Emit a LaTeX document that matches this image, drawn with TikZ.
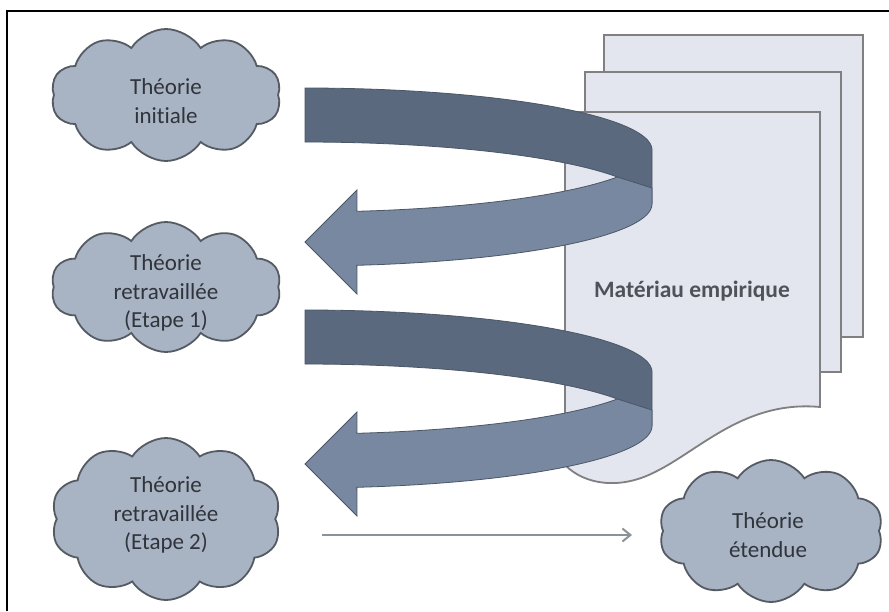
\documentclass[tikz,border=0pt]{standalone}
\usepackage{fontspec}
\setmainfont{Carlito}[Ligatures=NoCommon]
\usetikzlibrary{shapes.symbols,arrows.meta}
\definecolor{pagefill}{HTML}{E3E6EE}
\definecolor{pageedge}{HTML}{808080}
\definecolor{cloudfill}{HTML}{A8B3C4}
\definecolor{cloudedge}{HTML}{555B63}
\definecolor{ribdark}{HTML}{5A697E}
\definecolor{riblight}{HTML}{7788A0}
\definecolor{ribedge}{HTML}{4B5666}
\definecolor{txt}{HTML}{30343B}
\definecolor{thinarrow}{HTML}{8A9297}
\tikzset{
  cloudshape/.style={cloud, cloud puffs=10, cloud puff arc=115, cloud ignores aspect,
    fill=cloudfill, draw=cloudedge, line width=1.8pt, inner sep=0pt},
  cloudtext/.style={align=center, text=txt, font=\fontsize{23}{28.5}\selectfont, inner sep=0pt},
  pagebox/.style={fill=pagefill, draw=pageedge, line width=1.8pt},
}
\begin{document}
\begin{tikzpicture}[x=1pt,y=-1pt]
\useasboundingbox (0,0) rectangle (889,611);
\fill[white] (0,0) rectangle (889,611);
% frame
\draw[line width=2pt,black] (7,611) -- (7,11) -- (889,11);
% pages
\draw[pagebox] (604,35) rectangle (863,337);
\draw[pagebox] (585,72) rectangle (841,372);
\draw[pagebox] (565,112) -- (820,112) -- (820,407)
  .. controls (745,400) and (700,450) .. (655,472)
  .. controls (620,490) and (585,485) .. (565,465) -- cycle;
\node[text=txt!85!white, font=\fontsize{23.5}{28}\selectfont\bfseries, inner sep=0pt] (mat) at (692,291) {Matériau empirique};
% ribbons
\foreach \dy in {0,222}{
\begin{scope}[shift={(0,\dy)}]
\filldraw[fill=ribdark, draw=ribedge, line width=0.8pt]
  plot[domain=90:0, samples=50] ({305+347*cos(\x)},{150-62*sin(\x)})
  -- (652,204)
  -- plot[domain=0:90, samples=50] ({305+347*cos(\x)},{204-62*sin(\x)}) -- cycle;
\filldraw[fill=riblight, draw=ribedge, line width=0.8pt]
  plot[domain=25.8:81.4, samples=40] ({305+347*cos(\x)},{150+62*sin(\x)})
  -- (357,190) -- (305,242) -- (357,294)
  -- plot[domain=81.4:0, samples=50] ({305+347*cos(\x)},{204+62*sin(\x)})
  -- (652,188) -- cycle;
\end{scope}
}
% clouds
\node[cloudshape, minimum width=230, minimum height=132] (c1) at (166,95) {};
\node[cloudtext] (t1) at (166,101) {Théorie\\initiale};
\node[cloudshape, minimum width=230, minimum height=130] (c2) at (166,287) {};
\node[cloudtext] (t2) at (166,293) {Théorie\\retravaillée\\(Etape 1)};
\node[cloudshape, minimum width=230, minimum height=162] (c3) at (166,519) {};
\node[cloudtext] (t3) at (166,515) {Théorie\\retravaillée\\(Etape 2)};
\node[cloudshape, minimum width=224, minimum height=142] (c4) at (771,531) {};
\node[cloudtext] (t4) at (768,535) {Théorie\\étendue};
% thin arrow
\coordinate (a1) at (322,535);
\coordinate (a2) at (632,535);
\draw[thinarrow, line width=2pt, -{Straight Barb[length=8pt,width=13pt]}] (a1) -- (a2);
\end{tikzpicture}
\end{document}
